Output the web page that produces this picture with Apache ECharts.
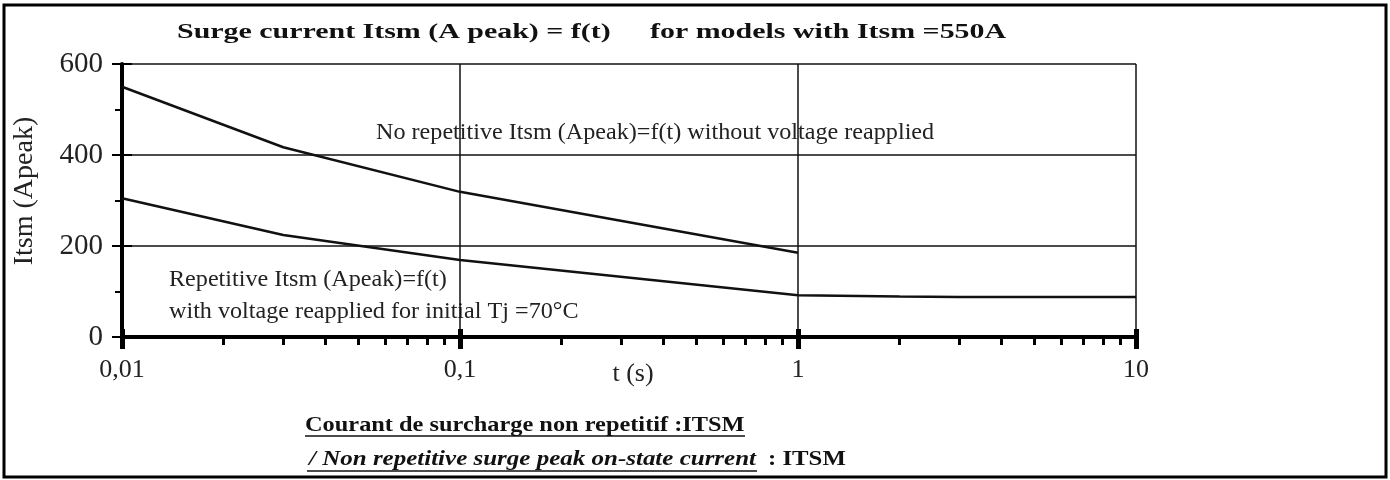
<!DOCTYPE html>
<html>
<head>
<meta charset="utf-8">
<script src="https://cdn.jsdelivr.net/npm/echarts@6/dist/echarts.min.js"></script>
<style>
    html, body { margin: 0; padding: 0; background: #fff; }
    #chart { width: 1390px; height: 480px; }
</style>
</head>
<body>
<div id="chart"></div>
<script>
// surge current Itsm = f(t)
const tNoRep = [0.01, 0.03, 0.1, 1];
const iNoRep = [550, 417, 319, 185];
const tRep = [0.01, 0.03, 0.1, 1, 2, 3, 10];
const iRep = [305, 224, 169, 92, 89, 88, 88];

const xTicks = [0.01, 0.1, 1, 10];
const xTickLabels = ['0,01', '0,1', '1', '10'];
const xMinorTicks = [0.02, 0.03, 0.04, 0.05, 0.06, 0.07, 0.08, 0.09,
    0.2, 0.3, 0.4, 0.5, 0.6, 0.7, 0.8, 0.9,
    2, 3, 4, 5, 6, 7, 8, 9];

const serif = '"Liberation Serif", "DejaVu Serif", serif';

const pairs = (xs, ys) => xs.map((x, i) => [x, ys[i]]);

let chart = echarts.init(document.getElementById('chart'));

// helper axes in exponent space, only used to draw tick marks
const expAxis = (values, tick) => ({
    type: 'value',
    gridIndex: 0,
    position: 'bottom',
    min: Math.log10(xTicks[0]),
    max: Math.log10(xTicks[xTicks.length - 1]),
    axisLine: { show: false, onZero: false },
    axisLabel: { show: false },
    splitLine: { show: false },
    axisTick: Object.assign({ show: true, customValues: values.map(v => Math.log10(v)) }, tick)
});

let option = {
    animation: false,
    backgroundColor: '#fff',
    grid: {
        left: 122,
        right: 254,
        top: 64,
        bottom: 143,
        containLabel: false
    },
    xAxis: [
        {
            type: 'log',
            logBase: 10,
            min: 0.01,
            max: 10,
            axisLine: { onZero: false, lineStyle: { color: '#000', width: 4 } },
            axisTick: { show: true, length: 12, lineStyle: { color: '#000', width: 5 } },
            axisLabel: {
                fontFamily: serif,
                fontSize: 26,
                color: '#222',
                margin: 20,
                formatter: (v) => {
                    const i = xTicks.findIndex(t => Math.abs(Math.log10(t) - Math.log10(v)) < 1e-6);
                    return i < 0 ? '' : xTickLabels[i];
                }
            },
            splitLine: { show: true, lineStyle: { color: '#111', width: 1.5 } }
        },
        expAxis(xMinorTicks, { length: 8, lineStyle: { color: '#000', width: 3 } }),
        expAxis(xTicks, { inside: true, length: 8, lineStyle: { color: '#000', width: 5 } })
    ],
    yAxis: [
        {
            type: 'value',
            min: 0,
            max: 600,
            interval: 200,
            axisLine: { show: true, onZero: false, lineStyle: { color: '#000', width: 4 } },
            axisTick: { show: true, length: 10, lineStyle: { color: '#000', width: 2 } },
            minorTick: { show: true, splitNumber: 2, length: 7, lineStyle: { color: '#000', width: 2 } },
            axisLabel: { fontFamily: serif, fontSize: 29, color: '#222', margin: 19 },
            splitLine: { show: true, lineStyle: { color: '#111', width: 1.5 } }
        },
        {
            type: 'value',
            position: 'left',
            min: 0,
            max: 600,
            interval: 200,
            axisLine: { show: false, onZero: false },
            axisLabel: { show: false },
            splitLine: { show: false },
            axisTick: { show: true, inside: true, length: 10, lineStyle: { color: '#000', width: 2 } }
        }
    ],
    series: [
        {
            name: 'No repetitive',
            type: 'line',
            xAxisIndex: 0,
            yAxisIndex: 0,
            symbol: 'none',
            lineStyle: { color: '#111', width: 2.5 },
            data: pairs(tNoRep, iNoRep)
        },
        {
            name: 'Repetitive',
            type: 'line',
            xAxisIndex: 0,
            yAxisIndex: 0,
            symbol: 'none',
            lineStyle: { color: '#111', width: 2.5 },
            data: pairs(tRep, iRep)
        }
    ],
    graphic: [
        // outer frame
        {
            type: 'rect',
            shape: { x: 4, y: 5, width: 1382, height: 472 },
            style: { fill: 'none', stroke: '#000', lineWidth: 3 },
            silent: true
        },
        {
            type: 'text', x: 177, y: 32, scaleX: 1.36,
            style: { text: 'Surge current Itsm (A peak) = f(t)', font: 'bold 22px ' + serif, fill: '#111', textVerticalAlign: 'middle' }
        },
        {
            type: 'text', x: 650, y: 32, scaleX: 1.36,
            style: { text: 'for models with Itsm =550A', font: 'bold 22px ' + serif, fill: '#111', textVerticalAlign: 'middle' }
        },
        // axis titles
        {
            type: 'text', x: 25, y: 191, rotation: Math.PI / 2,
            style: { text: 'Itsm (Apeak)', font: '28px ' + serif, fill: '#222', textAlign: 'center', textVerticalAlign: 'middle' }
        },
        {
            type: 'text', x: 633, y: 374,
            style: { text: 't (s)', font: '26px ' + serif, fill: '#222', textAlign: 'center', textVerticalAlign: 'middle' }
        },
        // curve notes
        {
            type: 'text', x: 376, y: 133, scaleX: 1.05,
            style: { text: 'No repetitive Itsm (Apeak)=f(t) without voltage reapplied', font: '23px ' + serif, fill: '#222', textVerticalAlign: 'middle' }
        },
        {
            type: 'text', x: 169, y: 280, scaleX: 1.05,
            style: { text: 'Repetitive Itsm (Apeak)=f(t)', font: '23px ' + serif, fill: '#222', textVerticalAlign: 'middle' }
        },
        {
            type: 'text', x: 169, y: 312, scaleX: 1.05,
            style: { text: 'with voltage reapplied for initial Tj =70°C', font: '23px ' + serif, fill: '#222', textVerticalAlign: 'middle' }
        },
        // caption below the chart
        {
            type: 'text', x: 305, y: 426, scaleX: 1.16,
            style: { text: 'Courant de surcharge non repetitif :ITSM', font: 'bold 21px ' + serif, fill: '#111', textVerticalAlign: 'middle' }
        },
        {
            type: 'line',
            shape: { x1: 305, y1: 436, x2: 745, y2: 436 },
            style: { stroke: '#111', lineWidth: 1.5 }
        },
        {
            type: 'text', x: 309, y: 460, scaleX: 1.19,
            style: { text: '/ Non repetitive surge peak on-state current', font: 'italic bold 21px ' + serif, fill: '#111', textVerticalAlign: 'middle' }
        },
        {
            type: 'line',
            shape: { x1: 307, y1: 471, x2: 757, y2: 471 },
            style: { stroke: '#111', lineWidth: 1.5 }
        },
        {
            type: 'text', x: 768, y: 460, scaleX: 1.18,
            style: { text: ': ITSM', font: 'bold 21px ' + serif, fill: '#111', textVerticalAlign: 'middle' }
        }
    ]
};

chart.clear();
chart.setOption(option);
</script>
</body>
</html>
